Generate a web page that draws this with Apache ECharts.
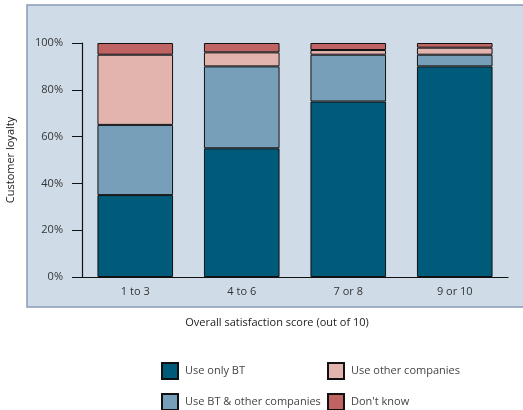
<!DOCTYPE html>
<html><head><meta charset="utf-8">
<script src="https://cdn.jsdelivr.net/npm/echarts@6/dist/echarts.min.js"></script>
<style>html,body{margin:0;padding:0;background:#fff;}#c{width:523px;height:410px;}</style>
</head><body><div id="c"></div>
<script>
var categories = ['1 to 3', '4 to 6', '7 or 8', '9 or 10'];
var useOnlyBT = [35, 55, 75, 90];
var useBTAndOther = [30, 35, 20, 5];
var useOtherCompanies = [30, 6, 2, 3];
var dontKnow = [5, 4, 3, 2];
var yTicks = [0, 20, 40, 60, 80, 100];

var font = 'Open Sans, Noto Sans, sans-serif';
var chart = echarts.init(document.getElementById('c'));
function s(name, data, color) {
  return { name: name, type: 'bar', stack: 'all', data: data, barWidth: '71%',
    itemStyle: { color: color, borderColor: '#111', borderWidth: 1 } };
}
function lg(name, left, top) {
  return { left: left, top: top, itemWidth: 16, itemHeight: 16, icon: 'rect',
    data: [name], selectedMode: false,
    textStyle: { color: '#444', fontSize: 11, padding: [0, 0, 0, 2] } };
}
chart.setOption({
  animation: false,
  textStyle: { fontFamily: font },
  graphic: [
    { type: 'rect', z: -10, shape: { x: 27, y: 5, width: 600, height: 302 },
      style: { fill: '#cfdce8', stroke: '#8b9bb6', lineWidth: 1.5 } },
    { type: 'text', x: 277, y: 323, style: { text: 'Overall satisfaction score (out of 10)', align: 'center', verticalAlign: 'middle', fontSize: 11, fill: '#222', fontFamily: font } }
  ],
  grid: { left: 82, right: 15, top: 43, bottom: 133, containLabel: false, outerBoundsMode: 'none' },
  xAxis: {
    type: 'category', data: categories,
    axisLine: { lineStyle: { color: '#111', width: 1.2 } },
    axisTick: { inside: true, length: 5, lineStyle: { color: '#111' } },
    axisLabel: { color: '#333', fontSize: 11, margin: 9 }
  },
  yAxis: {
    type: 'value', min: 0, max: 100, interval: 20,
    name: 'Customer loyalty', nameLocation: 'middle', nameGap: 66,
    nameTextStyle: { color: '#222', fontSize: 11 },
    axisLine: { show: true, lineStyle: { color: '#111', width: 1.2 } },
    axisTick: { show: true, length: 10, lineStyle: { color: '#111' } },
    splitLine: { show: false },
    axisLabel: { color: '#333', fontSize: 11, margin: 19,
      formatter: function (v) { return yTicks.indexOf(v) >= 0 ? v + '%' : ''; } }
  },
  legend: [
    lg('Use only BT', 156, 357),
    lg('Use BT & other companies', 156, 388),
    lg('Use other companies', 322, 357),
    lg("Don't know", 322, 388)
  ],
  series: [
    s('Use only BT', useOnlyBT, '#005b7b'),
    s('Use BT & other companies', useBTAndOther, '#789fba'),
    s('Use other companies', useOtherCompanies, '#e3b4ae'),
    s("Don't know", dontKnow, '#c06463')
  ]
});
</script></body></html>
